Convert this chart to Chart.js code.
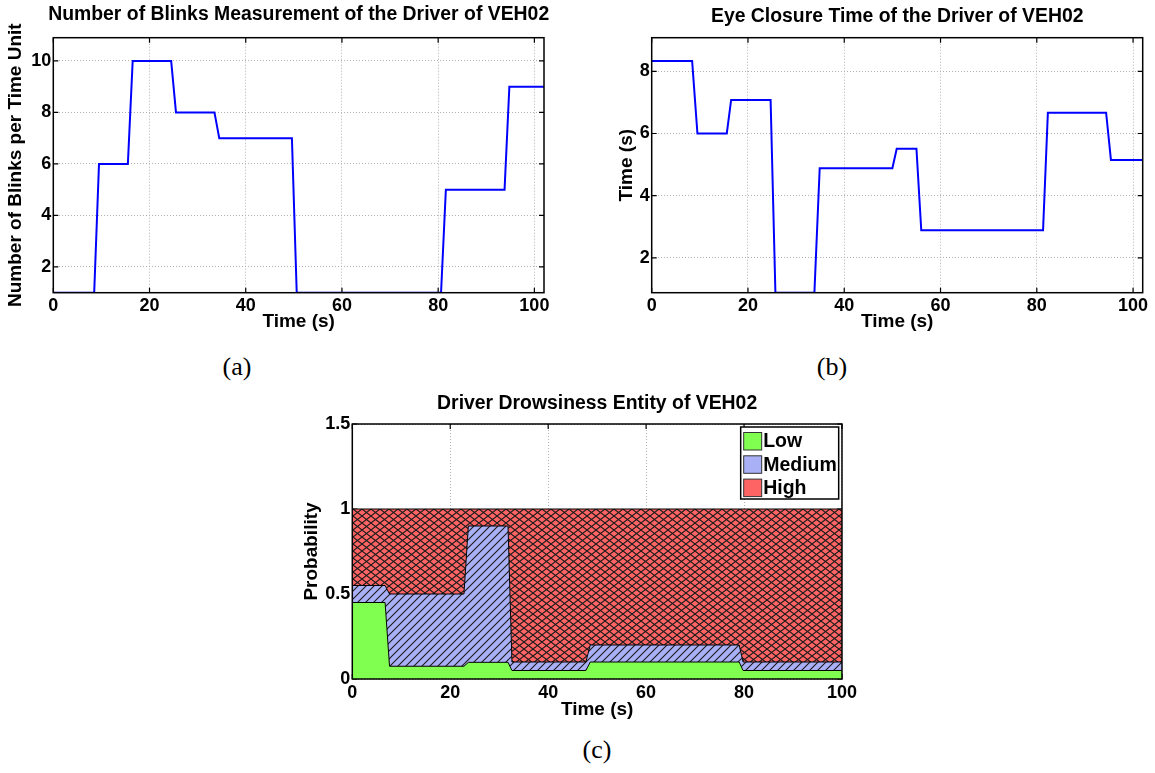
<!DOCTYPE html>
<html>
<head>
<meta charset="utf-8">
<script src="https://cdn.jsdelivr.net/npm/chart.js@4.4.1/dist/chart.umd.min.js"></script>
<style>
body{margin:0;background:#fff;}
#page{position:relative;width:1155px;height:773px;background:#fff;overflow:hidden;}
canvas{position:absolute;}
.cap{position:absolute;font-family:"Liberation Serif",serif;font-size:26px;transform:translate(-50%,-50%);white-space:nowrap;}
</style>
</head>
<body>
<div id="page">
<canvas id="blinks" width="560" height="340" style="left:0px;top:0px"></canvas>
<canvas id="closure" width="575" height="340" style="left:580px;top:0px"></canvas>
<canvas id="drowsy" width="570" height="340" style="left:290px;top:390px"></canvas>
<div class="cap" style="left:237px;top:367px">(a)</div>
<div class="cap" style="left:832px;top:367px">(b)</div>
<div class="cap" style="left:597px;top:750px">(c)</div>
</div>
<script>
// (a) blinks per time unit
let timeA = [0, 8.5, 9.5, 15.5, 16.5, 24.5, 25.5, 33.5, 34.5, 49.6, 50.6, 80.6, 81.6, 93.8, 94.8, 102];
let blinks = [1, 1, 6, 6, 10, 10, 8, 8, 7, 7, 1, 1, 5, 5, 9, 9];

// (b) eye closure time
let timeB = [0, 8.4, 9.5, 15.6, 16.5, 24.7, 25.7, 33.8, 34.9, 50.0, 50.9, 55.0, 56.0, 81.3, 82.3, 94.4, 95.4, 102];
let closure = [8.33, 8.33, 6.0, 6.0, 7.08, 7.08, 0.88, 0.88, 4.88, 4.88, 5.51, 5.51, 2.89, 2.89, 6.67, 6.67, 5.15, 5.15];

// (c) drowsiness probabilities (stacked)
let timeC = [0, 6.7, 7.6, 22.8, 23.7, 31.8, 32.6, 47.7, 48.6, 79, 79.8, 100];
let low = [0.45, 0.45, 0.075, 0.075, 0.098, 0.098, 0.05, 0.05, 0.1, 0.1, 0.05, 0.05];
let medium = [0.10, 0.10, 0.425, 0.425, 0.802, 0.802, 0.05, 0.05, 0.10, 0.10, 0.05, 0.05];
let high = [0.45, 0.45, 0.5, 0.5, 0.1, 0.1, 0.9, 0.9, 0.8, 0.8, 0.9, 0.9];
let levelNames = ["Low", "Medium", "High"];

let xTicks = [0, 20, 40, 60, 80, 100];
let yTicksA = [2, 4, 6, 8, 10];
let yTicksB = [2, 4, 6, 8];
let yTicksC = [0, 0.5, 1, 1.5];

Chart.defaults.font.family = '"Liberation Sans", Arial, sans-serif';
Chart.defaults.font.weight = 'bold';
Chart.defaults.color = '#000';
Chart.defaults.animation = false;

let toPoints = (xs, ys) => xs.map((x, i) => ({x: x, y: ys[i]}));

let makePattern = (w, h, bg, draw) => {
    let c = document.createElement('canvas');
    c.width = w; c.height = h;
    let g = c.getContext('2d');
    g.fillStyle = bg;
    g.fillRect(0, 0, w, h);
    g.strokeStyle = '#1c1c1c';
    g.lineWidth = 1.1;
    draw(g, w, h);
    return g.createPattern(c, 'repeat');
};

let greenCol = 'rgb(128,255,80)';
let blueCol = 'rgb(170,176,245)';
let redCol = 'rgb(255,100,100)';

let greenFill = greenCol;
let blueFill = makePattern(8, 8, blueCol, (g, w, h) => {
    g.beginPath();
    g.moveTo(-1, h + 1); g.lineTo(w + 1, -1);
    g.moveTo(-1, 1); g.lineTo(1, -1);
    g.moveTo(w - 1, h + 1); g.lineTo(w + 1, h - 1);
    g.stroke();
});
let redFill = makePattern(9, 7, redCol, (g, w, h) => {
    g.beginPath();
    g.moveTo(0, 0); g.lineTo(w, h);
    g.moveTo(0, h); g.lineTo(w, 0);
    g.stroke();
});

// frame + inward tick marks like matlab
let drawTicks = (chart) => {
    let ctx = chart.ctx, a = chart.chartArea;
    let sx = chart.scales.x, sy = chart.scales.y;
    ctx.save();
    ctx.strokeStyle = '#000';
    ctx.lineWidth = 1.2;
    ctx.beginPath();
    sx.ticks.forEach(t => {
        let px = sx.getPixelForValue(t.value);
        ctx.moveTo(px, a.bottom); ctx.lineTo(px, a.bottom - 5);
        ctx.moveTo(px, a.top); ctx.lineTo(px, a.top + 5);
    });
    sy.ticks.forEach(t => {
        let py = sy.getPixelForValue(t.value);
        ctx.moveTo(a.left, py); ctx.lineTo(a.left + 5, py);
        ctx.moveTo(a.right, py); ctx.lineTo(a.right - 5, py);
    });
    ctx.stroke();
    ctx.restore();
};

let boxPlugin = {
    id: 'box',
    beforeDatasetsDraw(chart, args, opts) {
        if (opts.under) drawTicks(chart);
    },
    afterDatasetsDraw(chart, args, opts) {
        if (!opts.under) drawTicks(chart);
        let ctx = chart.ctx, a = chart.chartArea;
        ctx.save();
        ctx.strokeStyle = '#000';
        ctx.lineWidth = 1.5;
        ctx.strokeRect(a.left, a.top, a.right - a.left, a.bottom - a.top);
        ctx.restore();
    }
};

// title centred over the plot box, not the whole canvas
let titlePlugin = {
    id: 'plotTitle',
    afterDraw(chart, args, opts) {
        let ctx = chart.ctx, a = chart.chartArea;
        ctx.save();
        ctx.font = 'bold 19.4px "Liberation Sans", Arial, sans-serif';
        ctx.fillStyle = '#000';
        ctx.textAlign = 'center';
        ctx.textBaseline = 'middle';
        ctx.fillText(opts.text, (a.left + a.right) / 2, opts.y);
        ctx.restore();
    }
};

let legendPlugin = {
    id: 'boxLegend',
    afterDraw(chart) {
        let ctx = chart.ctx, a = chart.chartArea;
        let bw = 98, bh = 72;
        let bx = a.right - 3.3 - bw, by = a.top + 3;
        ctx.save();
        ctx.fillStyle = '#fff';
        ctx.fillRect(bx, by, bw, bh);
        ctx.strokeStyle = '#000';
        ctx.lineWidth = 1.5;
        ctx.strokeRect(bx, by, bw, bh);
        ctx.font = 'bold 19.5px "Liberation Sans", Arial, sans-serif';
        ctx.textBaseline = 'middle';
        chart.data.datasets.forEach((ds, i) => {
            let cy = by + 14 + i * 23.3;
            ctx.fillStyle = ds.swatch;
            ctx.fillRect(bx + 3, cy - 8.5, 18, 17.5);
            ctx.strokeStyle = '#333';
            ctx.lineWidth = 1;
            ctx.strokeRect(bx + 3, cy - 8.5, 18, 17.5);
            ctx.fillStyle = '#000';
            ctx.fillText(ds.label, bx + 22.5, cy + 1);
        });
        ctx.restore();
    }
};

let makeScales = (cfg) => ({
    x: {
        type: 'linear', min: 0, max: cfg.xmax,
        afterBuildTicks: s => { s.ticks = xTicks.map(v => ({value: v})); },
        afterFit: s => { s.height = cfg.xHeight; },
        grid: {color: '#b0b0b0', drawTicks: false, lineWidth: 1},
        border: {display: false, dash: [1, 2]},
        ticks: {padding: 3, font: {size: 18}, maxRotation: 0, autoSkip: false},
        title: {display: true, text: 'Time (s)', font: {size: 19}, padding: {top: 0, bottom: cfg.xTitlePad}}
    },
    y: {
        type: 'linear', min: cfg.ymin, max: cfg.ymax, stacked: !!cfg.stacked,
        afterBuildTicks: s => { s.ticks = cfg.yTicks.map(v => ({value: v})); },
        afterFit: s => { s.width = cfg.yWidth; },
        grid: {color: '#b0b0b0', drawTicks: false, lineWidth: 1},
        border: {display: false, dash: [1, 2]},
        ticks: {padding: 2, font: {size: 18}, autoSkip: false, callback: v => String(v)},
        title: {display: true, text: cfg.yTitle, font: {size: 19}, padding: {top: cfg.yTitlePad, bottom: 0}}
    }
});

let lineSet = (xs, ys) => ({
    data: toPoints(xs, ys),
    borderColor: '#0000ff',
    borderWidth: 2,
    pointRadius: 0,
    tension: 0,
    fill: false
});

new Chart(document.getElementById('blinks'), {
    type: 'line',
    data: {datasets: [lineSet(timeA, blinks)]},
    options: {
        responsive: false,
        layout: {padding: {left: 0, right: 16, top: 37.7, bottom: 0}},
        plugins: {
            legend: {display: false}, tooltip: {enabled: false},
            plotTitle: {text: 'Number of Blinks Measurement of the Driver of VEH02', y: 15},
            box: {under: false}
        },
        scales: makeScales({xmax: 102, ymin: 1, ymax: 10.9, yTicks: yTicksA, yWidth: 53.3, yTitle: 'Number of Blinks per Time Unit', yTitlePad: 4, xHeight: 47.3, xTitlePad: 6.6})
    },
    plugins: [boxPlugin, titlePlugin]
});

new Chart(document.getElementById('closure'), {
    type: 'line',
    data: {datasets: [lineSet(timeB, closure)]},
    options: {
        responsive: false,
        layout: {padding: {left: 0, right: 12.3, top: 37.7, bottom: 0}},
        plugins: {
            legend: {display: false}, tooltip: {enabled: false},
            plotTitle: {text: 'Eye Closure Time of the Driver of VEH02', y: 16.5},
            box: {under: false}
        },
        scales: makeScales({xmax: 102, ymin: 0.88, ymax: 9.08, yTicks: yTicksB, yWidth: 71.7, yTitle: 'Time (s)', yTitlePad: 35.6, xHeight: 47.3, xTitlePad: 6.6})
    },
    plugins: [boxPlugin, titlePlugin]
});

let areaSet = (label, ys, fill, bg, sw) => ({
    label: label,
    data: toPoints(timeC, ys),
    fill: fill,
    backgroundColor: bg,
    swatch: sw,
    borderColor: '#000',
    borderWidth: 1,
    pointRadius: 0,
    tension: 0
});

new Chart(document.getElementById('drowsy'), {
    type: 'line',
    data: {datasets: [
        areaSet(levelNames[0], low, 'origin', greenFill, greenCol),
        areaSet(levelNames[1], medium, '-1', blueFill, blueCol),
        areaSet(levelNames[2], high, '-1', redFill, redCol)
    ]},
    options: {
        responsive: false,
        layout: {padding: {left: 0, right: 16.7, top: 34, bottom: 0}},
        plugins: {
            legend: {display: false}, tooltip: {enabled: false},
            plotTitle: {text: 'Driver Drowsiness Entity of VEH02', y: 14},
            box: {under: true}
        },
        scales: makeScales({xmax: 100, ymin: 0, ymax: 1.5, yTicks: yTicksC, yWidth: 62.3, yTitle: 'Probability', yTitlePad: 10, xHeight: 51, xTitlePad: 8.6, stacked: true})
    },
    plugins: [boxPlugin, titlePlugin, legendPlugin]
});
</script>
</body>
</html>
